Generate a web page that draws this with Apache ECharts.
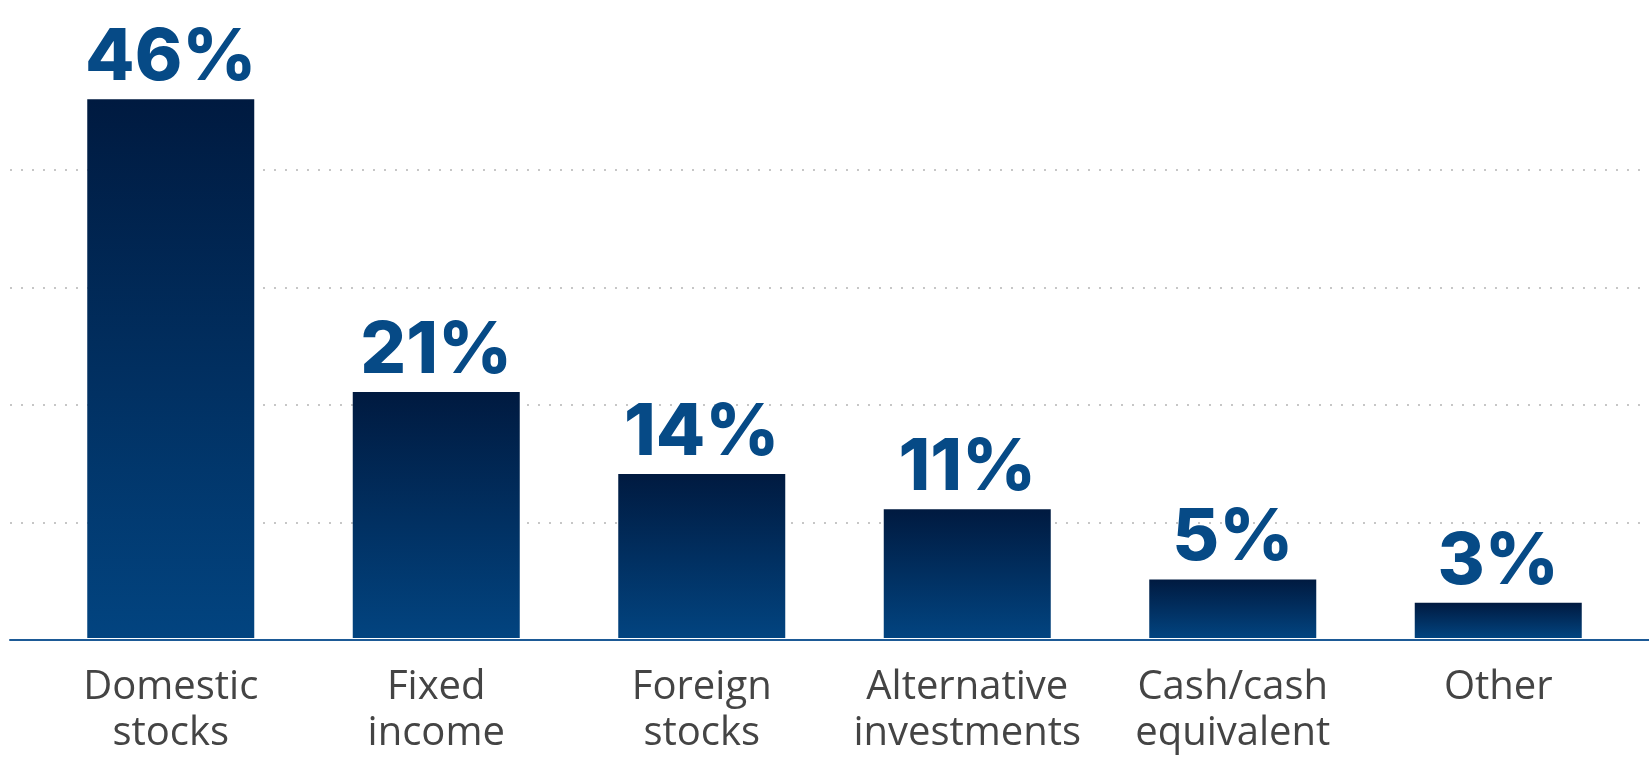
<!DOCTYPE html>
<html>
<head>
<meta charset="utf-8">
<script src="https://cdn.jsdelivr.net/npm/echarts@6/dist/echarts.min.js"></script>
<style>html,body{margin:0;padding:0;background:#fff;}#c{width:1649px;height:757px;}</style>
</head>
<body>
<div id="c"></div>
<script>
const categories = ['Domestic\nstocks', 'Fixed\nincome', 'Foreign\nstocks', 'Alternative\ninvestments', 'Cash/cash\nequivalent', 'Other'];
const values = [46, 21, 14, 11, 5, 3];
const yMin = 0, yMax = 50, yStep = 10;

const chart = echarts.init(document.getElementById('c'), null, {renderer: 'canvas'});
const gridTop = 52.5, gridBottom = 117;
chart.setOption({
  backgroundColor: '#ffffff',
  animation: false,
  grid: [
    {left: 38, right: 18, top: gridTop, bottom: gridBottom},
    {left: 10, right: 0, top: gridTop, bottom: gridBottom}
  ],
  xAxis: [
    {
      type: 'category', gridIndex: 0, data: categories,
      axisLine: {show: false}, axisTick: {show: false},
      axisLabel: {
        interval: 0, margin: 27, color: '#444444',
        fontFamily: 'Open Sans', fontSize: 40, lineHeight: 46
      }
    },
    {
      type: 'value', gridIndex: 1, min: 0, max: 1, z: 5,
      axisLine: {show: true, lineStyle: {color: '#1d5a96', width: 2}},
      axisTick: {show: false}, axisLabel: {show: false}, splitLine: {show: false}
    }
  ],
  yAxis: [
    {type: 'value', gridIndex: 0, min: yMin, max: yMax, interval: yStep, show: false, splitLine: {show: false}},
    {
      type: 'value', gridIndex: 1, min: yMin, max: yMax, interval: yStep,
      axisLine: {show: false}, axisTick: {show: false}, axisLabel: {show: false},
      splitLine: {show: true, showMinLine: false, showMaxLine: false,
        lineStyle: {color: '#b4b4b4', width: 1.5, type: [2, 9]}}
    }
  ],
  series: [{
    type: 'bar', xAxisIndex: 0, yAxisIndex: 0, data: values, barWidth: 167, z: 3,
    itemStyle: {
      color: new echarts.graphic.LinearGradient(0, 0, 0, 1, [
        {offset: 0, color: '#001a40'},
        {offset: 1, color: '#024480'}
      ])
    },
    label: {
      show: true, position: 'top', distance: 5,
      formatter: p => p.value + '%',
      color: '#064a86', fontFamily: 'Inter', fontWeight: 800, fontSize: 72
    }
  }]
});
</script>
</body>
</html>
